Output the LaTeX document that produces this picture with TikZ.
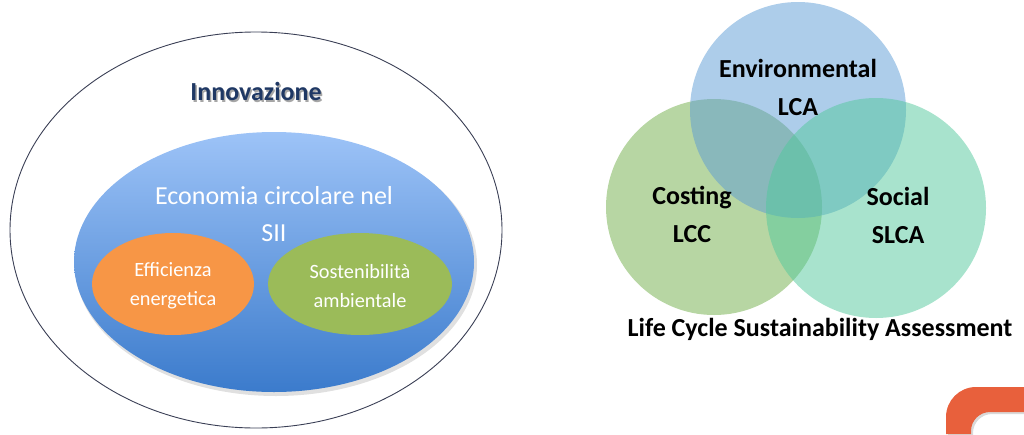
\documentclass[tikz,border=0pt]{standalone}
\usepackage{fontspec}
\setmainfont{Carlito}
\usetikzlibrary{shapes.geometric}
\definecolor{outerline}{HTML}{3A3F55}
\definecolor{innotext}{HTML}{1F3864}
\definecolor{bluetop}{HTML}{9DC3F7}
\definecolor{bluebot}{HTML}{3B7BCC}
\definecolor{orangefill}{HTML}{F79646}
\definecolor{greenfill}{HTML}{9BBB59}
\definecolor{envblue}{HTML}{5B9BD5}
\definecolor{costgreen}{HTML}{70AD47}
\definecolor{socgreen}{HTML}{52C89B}
\definecolor{logoorange}{HTML}{E8603C}
\tikzset{
  oval/.style={ellipse, inner sep=0pt, outer sep=0pt},
  venn/.style={circle, inner sep=0pt, fill opacity=0.5},
  wlabel/.style={text=white, align=center, font=\fontsize{20.3}{29}\selectfont},
  blabel/.style={text=black, align=center, font=\bfseries\fontsize{26}{38}\selectfont},
}
\begin{document}
\begin{tikzpicture}[x=1pt,y=-1pt]
\useasboundingbox (0,0) rectangle (1024,434);
% left diagram
\node[oval, draw=outerline, line width=0.9pt, minimum width=492pt, minimum height=396pt] (outer) at (256,230) {};
\node[oval, fill=black, opacity=0.12, minimum width=402pt, minimum height=262pt] (blueshadow) at (276,265) {};
\node[oval, top color=bluetop, bottom color=bluebot, minimum width=400pt, minimum height=260pt] (blue) at (274,262) {};
\node[oval, fill=orangefill, minimum width=162pt, minimum height=102pt] (orange) at (173,284) {};
\node[oval, fill=greenfill, minimum width=184pt, minimum height=102pt] (green) at (360,284) {};
\node[text=black!35, font=\bfseries\fontsize{26}{30}\selectfont] (innoshadow) at (257.5,93) {Innovazione};
\node[text=innotext, font=\bfseries\fontsize{26}{30}\selectfont] (inno) at (256,91) {Innovazione};
\node[text=white, align=center, font=\fontsize{26}{37}\selectfont] (eco) at (274,214) {Economia circolare nel\\SII};
\node[wlabel] (eff) at (173,286) {Efficienza\\energetica};
\node[wlabel] (sost) at (360,286) {Sostenibilità\\ambientale};
% right diagram
\node[venn, fill=costgreen, minimum size=216pt] (cost) at (714,207) {};
\node[venn, fill=envblue, minimum size=216pt] (env) at (798,110) {};
\node[venn, fill=socgreen, minimum size=220pt] (soc) at (876,208) {};
\node[blabel] (envt) at (798,87) {Environmental\\LCA};
\node[blabel] (costt) at (692,214) {Costing\\LCC};
\node[blabel] (soct) at (898,215) {Social\\SLCA};
\node[text=black, font=\bfseries\fontsize{26}{30}\selectfont] (lcsa) at (820,329) {Life Cycle Sustainability Assessment};
% logo corner
\fill[black, opacity=0.15] (948,436) -- (948,419) arc[start angle=180, end angle=270, radius=30] -- (1026,389) -- (1026,414) -- (992,414) arc[start angle=270, end angle=180, radius=19] -- (973,436) -- cycle;
\fill[logoorange] (946,434) -- (946,417) arc[start angle=180, end angle=270, radius=30] -- (1024,387) -- (1024,412) -- (990,412) arc[start angle=270, end angle=180, radius=19] -- (971,434) -- cycle;
\end{tikzpicture}
\end{document}
